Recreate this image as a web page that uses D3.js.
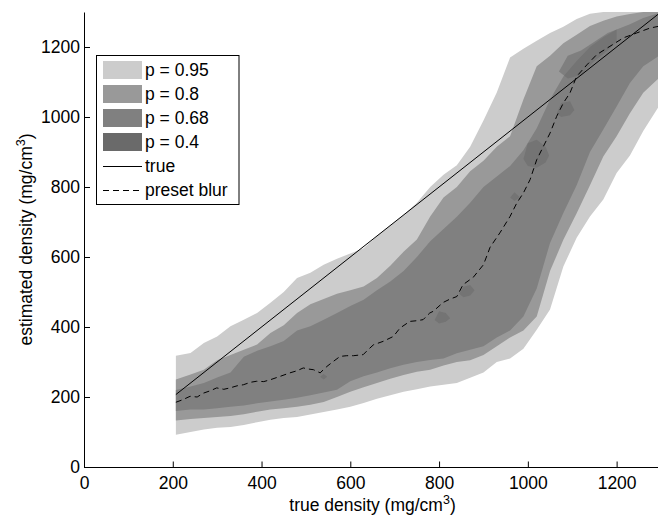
<!DOCTYPE html>
<html><head><meta charset="utf-8">
<script src="https://cdn.jsdelivr.net/npm/d3@7"></script>
<style>body{margin:0;background:#fff}svg{display:block}</style>
</head><body><svg id="c" width="658" height="519"></svg>
<script>
// ---- data (mg/cm^3) ----
const xGrid = [207,240,270,300,330,360,390,420,450,480,510,540,570,600,630,660,690,720,750,780,810,840,870,900,930,960,990,1020,1050,1080,1110,1140,1170,1200,1230,1260,1290,1300];
const p95Hi = [318,326,354,373,402,421,440,469,500,540,555,578,595,610,625,660,690,720,755,800,835,862,915,990,1070,1170,1195,1218,1240,1258,1280,1295,1300,1300,1300,1300,1300,1300];
const p95Lo = [92,100,107,112,114,120,128,135,140,143,150,157,164,172,183,195,205,215,222,230,235,240,255,270,300,310,338,392,450,573,655,716,764,840,890,960,1020,1040];
const p80Hi = [250,264,278,305,320,335,350,383,405,440,465,480,495,505,516,540,575,615,650,716,770,800,845,875,915,945,1050,1145,1175,1211,1235,1260,1275,1287,1294,1300,1300,1300];
const p80Lo = [133,137,140,143,146,151,158,164,168,172,178,186,200,215,228,240,252,263,272,278,290,300,305,320,345,370,390,430,560,649,725,805,887,945,1011,1069,1105,1115];
const p68Hi = [220,230,240,256,270,315,332,345,360,390,402,421,440,460,478,505,530,560,600,645,680,715,755,800,830,860,905,968,1050,1116,1160,1200,1228,1250,1265,1283,1295,1298];
const p68Lo = [160,164,164,168,172,176,182,187,192,198,205,213,221,245,259,270,282,292,300,306,310,325,335,345,370,390,430,510,640,726,805,900,964,1030,1097,1145,1170,1178];
// p = 0.4 region only appears as small patches (NaN = gap)
const p40X  = [532,540,548,NaN,790,800,815,825,NaN,845,855,870,880,NaN,960,970,982,NaN,990,1000,1020,1040,1048,NaN,1065,1075,1095,1105,NaN,1070,1090,1120,1150,1180,1200];
const p40Hi = [258,266,258,NaN,420,445,440,425,NaN,495,515,520,505,NaN,770,785,770,NaN,880,925,935,915,890,NaN,1010,1040,1045,1020,NaN,1130,1175,1190,1215,1240,1250];
const p40Lo = [258,250,258,NaN,420,410,415,425,NaN,495,485,490,505,NaN,770,760,770,NaN,880,860,855,870,890,NaN,1010,1000,1005,1020,NaN,1130,1110,1120,1160,1190,1215];
const trueX = [207,1300];
const trueY = [207,1300];
const blurX = [207,222,239,255,269,285,299,315,329,345,359,375,389,405,419,442,464,480,494,505,517,532,547,560,577,592,607,629,640,652,674,697,712,734,750,764,779,787,809,825,840,854,877,900,915,937,960,975,990,1005,1020,1035,1050,1065,1080,1095,1110,1133,1155,1185,1215,1245,1275,1294];
const blurY = [185,192,202,200,211,218,226,222,226,232,235,242,245,244,249,259,269,275,283,280,278,269,287,300,316,318,318,321,335,349,359,373,397,416,418,421,440,445,470,480,487,521,542,578,628,669,716,754,783,821,878,916,954,1002,1040,1069,1116,1149,1178,1202,1226,1240,1254,1259];
const xTicks = [0,200,400,600,800,1000,1200];
const yTicks = [0,200,400,600,800,1000,1200];
const legendLabels = ["p = 0.95","p = 0.8","p = 0.68","p = 0.4","true","preset blur"];
const bandColors = ["#cccccc","#999999","#808080","#6a6a6a"];

// ---- drawing ----
const FONT = '"Liberation Sans", Arial, Helvetica, sans-serif';
const FS = 17.5;
const svg = d3.select('#c');
svg.append('rect').attr('width',658).attr('height',519).attr('fill','#fff');
const x = d3.scaleLinear().domain([0,1300]).range([84,661]);
const y = d3.scaleLinear().domain([0,1300]).range([467,12]);

svg.append('defs').append('clipPath').attr('id','clip')
  .append('rect').attr('x',84).attr('y',12).attr('width',577).attr('height',455);
const g = svg.append('g').attr('clip-path','url(#clip)');

const area = d3.area().defined(d=>!isNaN(d.x)).x(d=>x(d.x)).y0(d=>y(d.lo)).y1(d=>y(d.hi));
const bands = [[p95Lo,p95Hi],[p80Lo,p80Hi],[p68Lo,p68Hi]];
bands.forEach((b,k)=>{
  g.append('path').datum(xGrid.map((xv,i)=>({x:xv,lo:b[0][i],hi:b[1][i]})))
    .attr('d',area).attr('fill',bandColors[k]);
});
g.append('path').datum(p40X.map((xv,i)=>({x:xv,lo:p40Lo[i],hi:p40Hi[i]})))
  .attr('d',area).attr('fill',bandColors[3]).attr('opacity',0.55);

const line = d3.line().x(d=>x(d[0])).y(d=>y(d[1]));
g.append('path').datum(trueX.map((v,i)=>[v,trueY[i]])).attr('d',line)
  .attr('fill','none').attr('stroke','#000').attr('stroke-width',1);
g.append('path').datum(blurX.map((v,i)=>[v,blurY[i]])).attr('d',line)
  .attr('fill','none').attr('stroke','#000').attr('stroke-width',1).attr('stroke-dasharray','6,4');

// axes
const xa = svg.append('g').attr('transform','translate(0,467.5)')
  .call(d3.axisBottom(x).tickValues(xTicks).tickSizeInner(-6).tickSizeOuter(0).tickPadding(9).tickFormat(d3.format('d')));
const ya = svg.append('g').attr('transform','translate(84,0)')
  .call(d3.axisLeft(y).tickValues(yTicks).tickSizeInner(-6).tickSizeOuter(0).tickPadding(4).tickFormat(d3.format('d')));
[xa,ya].forEach(a=>{
  a.attr('font-family',FONT).attr('font-size',FS);
  a.selectAll('text').attr('fill','#000');
  a.selectAll('line').attr('stroke','#000');
  a.select('.domain').attr('stroke','#000');
});
// x axis domain from 0 to right edge
xa.select('.domain').attr('d','M84,0H661');

// axis labels
const xl = svg.append('text').attr('x',372.5).attr('y',511).attr('text-anchor','middle')
  .attr('font-family',FONT).attr('font-size',FS).attr('fill','#000');
xl.append('tspan').text('true density (mg/cm');
xl.append('tspan').attr('dy',-7).attr('font-size',12.5).text('3');
xl.append('tspan').attr('dy',7).text(')');

const yl = svg.append('text').attr('transform','translate(31.5,239.5) rotate(-90)').attr('text-anchor','middle')
  .attr('font-family',FONT).attr('font-size',FS).attr('fill','#000');
yl.append('tspan').text('estimated density (mg/cm');
yl.append('tspan').attr('dy',-7).attr('font-size',12.5).text('3');
yl.append('tspan').attr('dy',7).text(')');

// legend
const lg = svg.append('g');
lg.append('rect').attr('x',96.5).attr('y',55.5).attr('width',142.5).attr('height',149)
  .attr('fill','#fff').attr('stroke','#000').attr('stroke-width',1);
legendLabels.forEach((lab,i)=>{
  const cy = 70 + i*24;
  if(i<4){
    lg.append('rect').attr('x',103).attr('y',cy-9).attr('width',39).attr('height',18).attr('fill',bandColors[i]);
  } else {
    lg.append('line').attr('x1',103).attr('x2',142).attr('y1',cy+0.5).attr('y2',cy+0.5)
      .attr('stroke','#000').attr('stroke-width',1).attr('stroke-dasharray', i===5?'6,4':null);
  }
  lg.append('text').attr('x',145).attr('y',cy+6.3).attr('font-family',FONT).attr('font-size',FS)
    .attr('fill','#000').text(lab);
});
</script></body></html>
